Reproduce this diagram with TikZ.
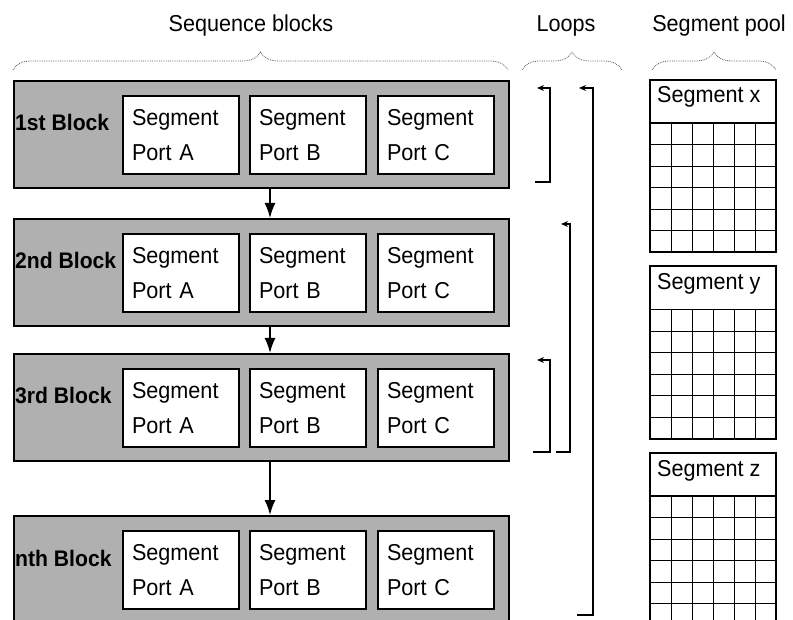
\documentclass[tikz,border=0pt]{standalone}
\usepackage{fontspec}
\setmainfont{Liberation Sans}[FakeStretch=0.94]
\usetikzlibrary{arrows.meta, decorations.pathreplacing}
\definecolor{blockgray}{RGB}{176,176,176}
\definecolor{bracegray}{RGB}{90,90,90}

\begin{document}
\begin{tikzpicture}[x=1pt, y=-1pt,
  txt/.style={font=\fontsize{23}{35}\selectfont},
  seqblock/.style={draw, line width=2pt, fill=blockgray, minimum width=495pt,
    minimum height=107pt, inner sep=0pt, anchor=north west},
  portbox/.style={draw, line width=2pt, fill=white, txt, minimum height=78pt,
    text width=98pt, inner xsep=9pt, inner ysep=0pt, align=left, anchor=north west},
  blocklabel/.style={font=\fontsize{22.5}{25}\selectfont\bfseries, anchor=base west, inner sep=0pt},
  headbrace/.style={decorate, decoration={brace, amplitude=18pt}, densely dotted,
    bracegray, line width=0.8pt},
  flow/.style={-{Latex[length=15pt, width=11pt]}, line width=1.6pt},
  loopline/.style={-{Stealth[length=7pt, width=6pt]}, line width=1.6pt},
  poolgrid/.style={line width=0.8pt}]
  \useasboundingbox (0,0) rectangle (793,620);
  \clip (0,0) rectangle (793,620);

  % Kopfzeilen
  \node[txt, anchor=base] (seqhead) at (251,32) {Sequence blocks};
  \node[txt, anchor=base] (loophead) at (566,32) {Loops};
  \node[txt, anchor=base] (poolhead) at (719,32) {Segment pool};
  \draw[headbrace] (13,70) -- (508,70);
  \draw[headbrace] (522,70) -- (622,70);
  \draw[headbrace] (652,70) -- (776,70);

  % Sequenzbloecke
  \foreach \blk/\ytop/\lab in {blk1/80/1st, blk2/218/2nd, blk3/353/3rd, blkn/515/nth} {
    \node[seqblock] (\blk) at (13,\ytop) {};
    \node[blocklabel] (\blk-lab) at (15,\ytop+51) {\lab{} Block};
    \foreach \port/\px in {A/122, B/249, C/377}
      \node[portbox] (\blk-\port) at (\px,\ytop+15) {Segment\\Port \port};
  }

  % Ablauf
  \coordinate (ax) at (270,0);
  \draw[flow] (blk1.south -| ax) -- (blk2.north -| ax);
  \draw[flow] (blk2.south -| ax) -- (blk3.north -| ax);
  \draw[flow] (blk3.south -| ax) -- (blkn.north -| ax);

  % Schleifen
  \draw[loopline] (535,182) -- (550,182) -- (550,88) -- (537,88);
  \draw[loopline] (577,615) -- (593,615) -- (593,88) -- (579,88);
  \draw[loopline] (556,452) -- (570,452) -- (570,224) -- (561,224);
  \draw[loopline] (533,452) -- (550,452) -- (550,360) -- (537,360);

  % Segmentpool
  \foreach \seg/\ytop in {x/80, y/266.5, z/453} {
    \draw[line width=2pt] (650,\ytop) rectangle (776,\ytop+172);
    \draw[line width=1.2pt] (650,\ytop+43) -- (776,\ytop+43);
    \foreach \k in {1,...,5} {
      \draw[poolgrid] (650+21*\k,\ytop+43) -- (650+21*\k,\ytop+172);
      \draw[poolgrid] (650,\ytop+43+21.5*\k) -- (776,\ytop+43+21.5*\k);
    }
    \node[txt, anchor=base west, inner sep=0pt] (pool\seg) at (657,\ytop+23) {Segment \seg};
  }
\end{tikzpicture}
\end{document}
